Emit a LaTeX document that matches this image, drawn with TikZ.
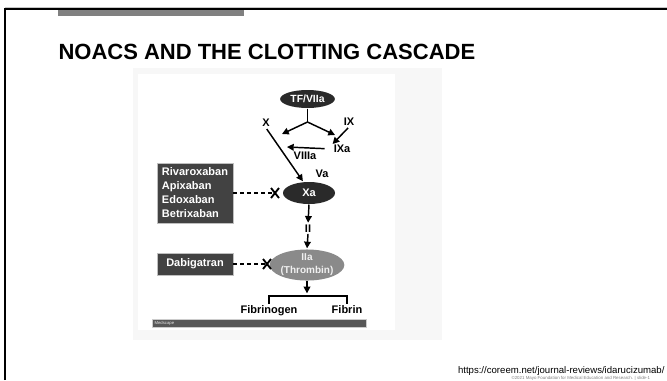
\documentclass[tikz,border=0pt]{standalone}
\usepackage{fontspec}
\setmainfont{Liberation Sans}
\usetikzlibrary{arrows.meta,shapes.geometric}

\definecolor{slidegray}{RGB}{128,128,128}
\definecolor{panelgray}{RGB}{247,247,247}
\definecolor{darkoval}{RGB}{42,42,42}
\definecolor{drugbox}{RGB}{66,66,66}
\definecolor{thrombin}{RGB}{138,138,138}
\definecolor{medbar}{RGB}{88,88,88}

\tikzset{every picture/.style={line width=0.75pt}}
\tikzset{
	dark oval/.style={ellipse, fill=darkoval, draw=none, text=white, inner sep=0pt, font=\bfseries\fontsize{7.8}{8}\selectfont},
	drug box/.style={rectangle, fill=drugbox, draw=gray!50, line width=0.5pt, text=white, inner sep=0pt, align=left, font=\bfseries\fontsize{8.25}{10.5}\selectfont},
	factor/.style={inner sep=0.5pt, font=\bfseries\fontsize{8.25}{9}\selectfont},
	flow/.style={line width=1.1pt, -{Triangle[length=5pt,width=5pt]}},
	blocked/.style={line width=1.2pt, dash pattern=on 3pt off 2.2pt},
	crossmark/.style={line width=1.4pt}
}

\begin{document}
\begin{tikzpicture}[x=0.75pt,y=0.75pt,yscale=-1,xscale=1]
	\useasboundingbox (0,0) rectangle (667,380);

	%Shape: Frame [id:frame]
	\fill[gray!45] (5,7) rectangle (667,8);
	\draw[line width=1.5pt] (5,380) -- (5,9) -- (667,9);
	%Shape: Rectangle [id:titlebar]
	\fill[slidegray] (58,10) rectangle (244,15.5);

	% Text Node
	\node[anchor=base west, inner sep=0pt, font=\bfseries\fontsize{16.5}{20}\selectfont] (title) at (58,59) {NOACS AND THE CLOTTING CASCADE};

	%Shape: Rectangle [id:panel]
	\fill[panelgray] (133,68) rectangle (442,340);
	\fill[white] (138,74) rectangle (395,330);

	%Shape: Ellipse [id:tf]
	\node[dark oval, minimum width=41pt, minimum height=13.5pt] (tf) at (307.5,99) {TF/VIIa};
	\coordinate (split) at (307.5,122);
	\coordinate (lend) at (282,134);
	\coordinate (rend) at (335,135);

	% Text Node
	\node[factor] (lblX) at (266,123) {X};
	% Text Node
	\node[factor] (lblIX) at (349,122) {IX};
	% Text Node
	\node[factor] (ixa) at (342,149) {IXa};
	% Text Node
	\node[factor] (viiia) at (305,156) {VIIIa};
	\coordinate (viiiend) at (287,147);
	% Text Node
	\node[factor] (va) at (322,174) {Va};

	%Shape: Ellipse [id:xa]
	\node[dark oval, minimum width=39pt, minimum height=16.5pt, font=\bfseries\fontsize{8.25}{9}\selectfont] (xa) at (309,193) {Xa};
	% Text Node
	\node[factor] (ii) at (308,229) {II};
	%Shape: Ellipse [id:iia]
	\node[dark oval, fill=thrombin, text=gray!12, align=center, minimum width=47pt, minimum height=22.5pt, font=\bfseries\fontsize{7.5}{9.75}\selectfont] (iia) at (307,265) {IIa\\(Thrombin)};

	%Shape: Rectangle [id:drugs]
	\node[drug box, minimum width=57pt, minimum height=45pt] (drugs) at (195,193) {Rivaroxaban\\Apixaban\\Edoxaban\\Betrixaban};
	%Shape: Rectangle [id:dabi]
	\node[drug box, minimum width=57pt, minimum height=16.5pt] (dabi) at (195,264) {Dabigatran};
	\coordinate (xmark1) at (275,193);
	\coordinate (xmark2) at (267,264);

	% Text Node
	\node[factor, anchor=north] (fibrinogen) at (269,304) {Fibrinogen};
	% Text Node
	\node[factor, anchor=north] (fibrin) at (347,304) {Fibrin};
	\coordinate (brk) at (307,296);

	%Shape: Rectangle [id:medscape]
	\node[rectangle, fill=medbar, draw=gray!40, line width=0.4pt, minimum width=160.5pt, minimum height=6pt, inner sep=0pt] (medbar) at (259,323) {};
	\node[anchor=west, inner sep=0pt, text=gray!20, font=\fontsize{3.2}{4}\selectfont] (medtext) at (154,323) {Medscape};

	% connectors
	\draw[line width=1.1pt] (tf.south) -- (split);
	\draw[flow] (split) -- (lend);
	\draw[flow] (split) -- (rend);
	\draw[flow, shorten <=1pt] (lblIX.south) -- (ixa.north west);
	\draw[flow, shorten <=6pt] (ixa.west) -- (viiiend);
	\draw[flow, shorten <=1pt, shorten >=0.5pt] (lblX.south) -- (xa.117);
	\draw[flow, shorten >=1pt] (xa.south) -- (ii.north);
	\draw[flow, shorten >=0.5pt] (ii.south) -- (iia.north);
	\draw[flow, shorten >=2pt] (iia.south) -- (brk);
	\draw[line width=1.1pt] (fibrinogen.north) -- (fibrinogen.north |- brk) -- (fibrin.north |- brk) -- (fibrin.north);

	% blocked paths
	\draw[blocked] (drugs.east) -- (xmark1);
	\draw[blocked] (dabi.east) -- (xmark2);
	\draw[crossmark] (xmark1) ++(-4,-5) -- ++(8,10);
	\draw[crossmark] (xmark1) ++(-4,5) -- ++(8,-10);
	\draw[crossmark] (xmark2) ++(-4,-5) -- ++(8,10);
	\draw[crossmark] (xmark2) ++(-4,5) -- ++(8,-10);

	% Text Node
	\node[anchor=base east, inner sep=0pt, font=\fontsize{7.2}{8}\selectfont] (source) at (665,373) {https://coreem.net/journal-reviews/idarucizumab/};
	% Text Node
	\node[anchor=base west, inner sep=0pt, text=gray, font=\fontsize{3.3}{4}\selectfont] (copyright) at (511,379) {©2021 Mayo Foundation for Medical Education and Research. | slide-1};
\end{tikzpicture}
\end{document}
